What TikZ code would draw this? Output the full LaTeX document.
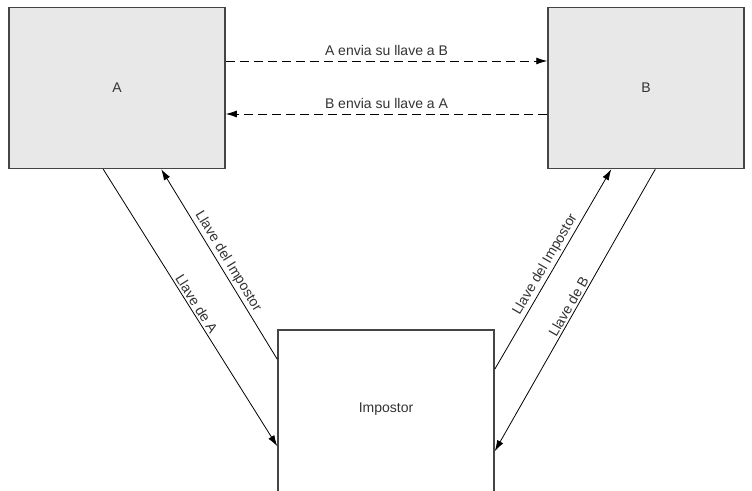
\documentclass[tikz,border=0pt]{standalone}
\usepackage{fontspec}
\setmainfont{Liberation Sans}
\usetikzlibrary{calc,arrows.meta}
\definecolor{boxgray}{HTML}{E8E8E8}
\definecolor{edgegray}{HTML}{454545}
\definecolor{txtgray}{HTML}{333333}
\begin{document}
\begin{tikzpicture}[x=1pt,y=1pt,
  party/.style={draw=edgegray,line width=1.5pt,fill=boxgray,minimum width=216pt,minimum height=161pt,inner sep=0pt,text=txtgray,font=\fontsize{14}{16}\selectfont},
  middle/.style={draw=edgegray,line width=1.5pt,fill=white,minimum width=216pt,minimum height=170pt,inner sep=0pt,text=txtgray,font=\fontsize{14}{16}\selectfont},
  keyline/.style={draw=black,line width=0.8pt,-{Latex[length=11pt,width=7pt]}},
  sendline/.style={keyline,dash pattern=on 9pt off 5pt},
  lbl/.style={text=txtgray,font=\fontsize{14}{16}\selectfont,inner sep=2pt}]
\useasboundingbox (0,0) rectangle (752,490);
\clip (0,0) rectangle (752,490);
\fill[white] (0,0) rectangle (752,490);

% the two parties and the impostor in the middle
\node[party] (A) at (117,402) {A};
\node[party,minimum width=196pt] (B) at (646,402) {B};
\node[middle] (I) at (386,75) {};
\node[text=txtgray,font=\fontsize{14}{16}\selectfont] (Ilabel) at (386,81) {Impostor};

% direct exchange between A and B
\draw[sendline] ($(A.east)+(0,27)$) -- node[lbl,above=3pt] {A envia su llave a B} ($(B.west)+(0,27)$);
\draw[sendline] ($(B.west)+(0,-26)$) -- node[lbl,above=3pt] {B envia su llave a A} ($(A.east)+(0,-26)$);

% keys intercepted on the left
\draw[keyline] ($(A.south west)+(95,0)$) -- node[lbl,sloped,above,pos=0.5] {Llave de A} ($(I.north west)+(0,-117)$);
\draw[keyline] ($(I.north west)+(0,-30)$) -- node[lbl,sloped,above,pos=0.49] {Llave del Impostor} ($(A.south west)+(153,0)$);

% keys intercepted on the right
\draw[keyline] ($(I.north east)+(0,-40)$) -- node[lbl,sloped,above,pos=0.5] {Llave del Impostor} ($(B.south west)+(64,0)$);
\draw[keyline] ($(B.south west)+(108,0)$) -- node[lbl,sloped,above,pos=0.5] {Llave de B} ($(I.north east)+(0,-122)$);
\end{tikzpicture}
\end{document}
